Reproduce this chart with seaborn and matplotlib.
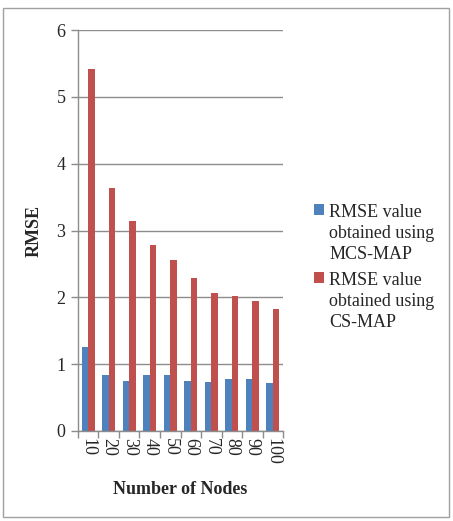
import matplotlib
matplotlib.use("Agg")
import matplotlib.pyplot as plt
import seaborn as sns
import pandas as pd
from matplotlib.patches import Rectangle

nodes = ["10", "20", "30", "40", "50", "60", "70", "80", "90", "100"]
mcs_map = [1.25, 0.83, 0.75, 0.83, 0.83, 0.74, 0.73, 0.77, 0.78, 0.71]
cs_map = [5.42, 3.64, 3.15, 2.78, 2.56, 2.29, 2.07, 2.02, 1.94, 1.82]
series_names = ["RMSE value\nobtained using\nMCS-MAP", "RMSE value\nobtained using\nCS-MAP"]
colors = ["#4F81BD", "#C0504D"]

df = pd.DataFrame({
    "Nodes": nodes * 2,
    "RMSE": mcs_map + cs_map,
    "Series": [series_names[0]] * len(nodes) + [series_names[1]] * len(nodes),
})

sns.set_style("white")
plt.rcParams["font.family"] = ["Liberation Serif", "DejaVu Serif"]

fig = plt.figure(figsize=(4.53, 5.21), dpi=100)
ax = fig.add_axes([0.172, 0.173, 0.453, 0.769])

sns.barplot(data=df, x="Nodes", y="RMSE", hue="Series", order=nodes,
            hue_order=series_names, palette=colors, width=0.63,
            saturation=1, ax=ax, linewidth=0)

ax.set_ylim(0, 6)
ax.set_xlim(-0.5, len(nodes) - 0.5)
ax.set_yticks(range(0, 7))
ax.yaxis.grid(True, color="#8c8c8c", linewidth=1)
ax.set_axisbelow(True)
for s in ["top", "right"]:
    ax.spines[s].set_visible(False)
for s in ["left", "bottom"]:
    ax.spines[s].set_color("#8c8c8c")
    ax.spines[s].set_linewidth(1)

ax.set_xticks([i for i in range(len(nodes))])
ax.set_xticklabels(nodes, rotation=-90, fontsize=13)
ax.tick_params(axis="x", length=0, pad=5)
ax.set_xticks([i + 0.5 for i in range(-1, len(nodes))], minor=True)
ax.tick_params(axis="x", which="minor", length=5, color="#8c8c8c", width=1, direction="out", bottom=True)
ax.tick_params(axis="y", length=5, color="#8c8c8c", width=1, direction="out", left=True, labelsize=13, pad=4)

ax.set_xlabel("Number of Nodes", fontsize=13, fontweight="bold", labelpad=12)
ax.set_ylabel("RMSE", fontsize=13, fontweight="bold", labelpad=10)

leg = ax.legend(loc="upper left", bbox_to_anchor=(1.115, 0.585), frameon=False,
                fontsize=13, handlelength=0.55, handleheight=0.55, handletextpad=0.3,
                labelspacing=0.55, borderaxespad=0)
for t in leg.get_texts():
    t.set_linespacing(1.3)
for col in leg._legend_handle_box.get_children():
    for hp in col.get_children():
        hp.align = "top"

fig.patches.append(Rectangle((0.007, 0.008), 0.985, 0.977, transform=fig.transFigure,
                             fill=False, edgecolor="#a0a0a0", linewidth=1))

fig.savefig("out.png", dpi=100)
